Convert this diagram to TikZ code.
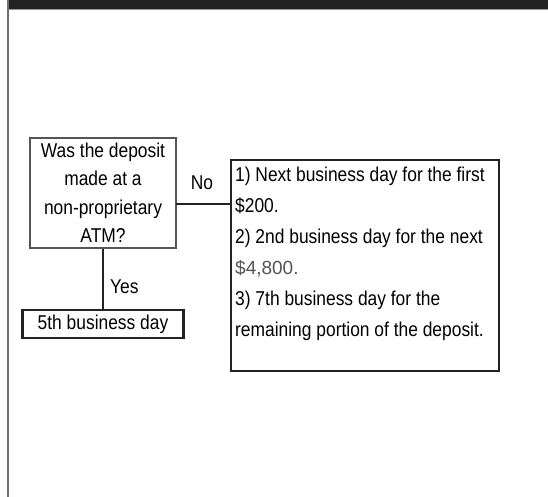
\documentclass[tikz,border=0pt]{standalone}
\usepackage{fontspec}
\setmainfont{Liberation Sans}[FakeStretch=0.87]
\newfontfamily\plainsans{Liberation Sans}
\definecolor{barcol}{HTML}{232323}
\definecolor{edgecol}{HTML}{6E6E6E}
\definecolor{linecol}{HTML}{222222}
\definecolor{qcol}{HTML}{555555}
\definecolor{numcol}{HTML}{555555}
\tikzset{
  qbox/.style={draw=qcol, line width=1.2pt, minimum width=146pt, minimum height=110pt,
    align=center, inner sep=0pt, font=\fontsize{20}{28.5}\selectfont},
  resbox/.style={draw=linecol, line width=2.4pt, inner xsep=4pt, inner ysep=0pt,
    font=\fontsize{20}{31}\selectfont},
  daybox/.style={draw=linecol, line width=2.4pt, minimum width=161pt, minimum height=28pt,
    inner sep=0pt, font=\fontsize{20}{23}\selectfont},
  lbl/.style={inner sep=0pt, font=\fontsize{20}{23}\selectfont},
  conn/.style={draw=linecol, line width=2pt}
}
\begin{document}
\begin{tikzpicture}[x=1pt,y=-1pt]
\useasboundingbox (0,0) rectangle (548,497);
\fill[white] (0,0) rectangle (548,497);
% frame
\fill[barcol] (7,0) rectangle (548,9);
\draw[edgecol!70, line width=1pt] (7,9.5) -- (548,9.5);
\draw[edgecol, line width=1.5pt] (7.75,0) -- (7.75,497);
% nodes
\node[qbox] (q) at (103,193) {Was the deposit\\made at a\\non-proprietary\\ATM?};
\node[daybox] (fifth) at (103,324) {5th business day};
\node[resbox, anchor=north west] (res) at (230,159) {\parbox[c][211pt][t]{260pt}{\raggedright
\rule{0pt}{21pt}1) Next business day for the first\\
\$200.\\
2) 2nd business day for the next\\
{\plainsans\fontsize{19}{31}\selectfont\color{numcol}\$4,800.}\\
3) 7th business day for the\\
remaining portion of the deposit.}};
\coordinate (nojoint) at (176,204);
% connectors
\draw[conn] (nojoint) -- (nojoint -| res.west);
\draw[conn] (q.south) -- (q.south |- fifth.north);
% labels
\node[lbl] (nolbl) at (202,183) {No};
\node[lbl, anchor=west] (yeslbl) at (110,287) {Yes};
\end{tikzpicture}
\end{document}
